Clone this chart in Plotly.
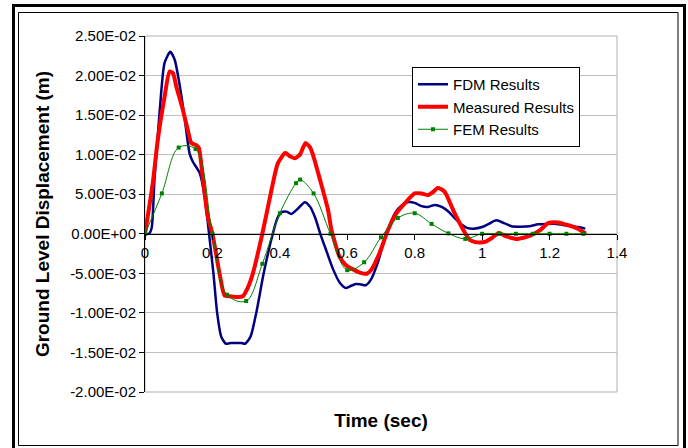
import plotly.graph_objects as go

# ---------------- data ----------------
fdm_t = [0, 0.012, 0.02, 0.028, 0.043, 0.058, 0.075, 0.088, 0.102, 0.117, 0.132, 0.142,
         0.162, 0.177, 0.19, 0.203, 0.214, 0.226, 0.24, 0.255, 0.27, 0.285, 0.297, 0.313,
         0.33, 0.352, 0.379, 0.393, 0.404, 0.42, 0.434, 0.454, 0.474, 0.49, 0.505, 0.52,
         0.535, 0.558, 0.578, 0.595, 0.61, 0.625, 0.64, 0.655, 0.67, 0.69, 0.716, 0.742,
         0.762, 0.781, 0.8, 0.82, 0.84, 0.86, 0.88, 0.899, 0.918, 0.938, 0.955, 0.975,
         1.0, 1.02, 1.042, 1.065, 1.087, 1.11, 1.14, 1.166, 1.19, 1.221, 1.24, 1.26,
         1.285, 1.306]
fdm_v = [0, 0, 0.0008, 0.0068, 0.0152, 0.0216, 0.0230, 0.0220, 0.0190, 0.0148, 0.0102, 0.0091,
         0.0077, 0.0047, 0.0, -0.005, -0.010, -0.013, -0.0139, -0.0138, -0.0138, -0.0138, -0.0139, -0.0130,
         -0.010, -0.005, 0.0, 0.0020, 0.0027, 0.0028, 0.0025, 0.0032, 0.0040, 0.0034, 0.0020, 0.0,
         -0.0018, -0.0045, -0.0062, -0.00685, -0.0066, -0.00635, -0.0064, -0.0065, -0.0058, -0.0037, 0.0, 0.00265,
         0.0036, 0.0040, 0.0039, 0.0035, 0.0034, 0.00365, 0.0034, 0.00285, 0.0020, 0.0012, 0.00075, 0.00065,
         0.00085, 0.00125, 0.0017, 0.00135, 0.00095, 0.0009, 0.00095, 0.0012, 0.00125, 0.00125, 0.0011, 0.0010,
         0.00085, 0.00065]

meas_t = [0, 0.023, 0.038, 0.058, 0.073, 0.083, 0.093, 0.112, 0.127, 0.137, 0.145, 0.152,
          0.16, 0.172, 0.186, 0.2, 0.221, 0.236, 0.25, 0.27, 0.29, 0.305, 0.32, 0.348,
          0.375, 0.394, 0.416, 0.43, 0.444, 0.459, 0.476, 0.49, 0.498, 0.518, 0.543, 0.553,
          0.577, 0.597, 0.617, 0.637, 0.657, 0.672, 0.696, 0.721, 0.746, 0.776, 0.8, 0.82,
          0.84, 0.855, 0.869, 0.889, 0.914, 0.944, 0.963, 0.98, 0.993, 1.01, 1.028, 1.05,
          1.067, 1.085, 1.102, 1.122, 1.142, 1.171, 1.196, 1.226, 1.25, 1.28, 1.305]
meas_v = [0, 0.0064, 0.0119, 0.0173, 0.0205, 0.0203, 0.0186, 0.0157, 0.0131, 0.0115, 0.0113, 0.0112,
          0.0108, 0.0068, 0.0022, 0.0, -0.005, -0.0078, -0.0079, -0.0080, -0.0079, -0.0068, -0.005, 0.0,
          0.0055, 0.0089, 0.0102, 0.0098, 0.00956, 0.00997, 0.01145, 0.0109, 0.0100, 0.0070, 0.0030, 0.0005,
          -0.0029, -0.0040, -0.0045, -0.0049, -0.00505, -0.0045, -0.0024, 0.0005, 0.0026, 0.0041, 0.0051, 0.0051,
          0.0049, 0.0053, 0.0058, 0.0053, 0.0030, 0.0005, -0.00076, -0.00105, -0.0011, -0.0010, -0.00055, 0.0001,
          -0.00025, -0.0005, -0.00067, -0.0005, -0.00025, 0.00042, 0.00135, 0.00143, 0.00114, 0.00072, 0.0001]

fem_t = [0, 0.05, 0.1, 0.15, 0.2, 0.243, 0.3, 0.348, 0.4, 0.448, 0.46, 0.5, 0.55, 0.6,
         0.65, 0.7, 0.75, 0.8, 0.85, 0.9, 0.95, 1.0, 1.05, 1.1, 1.15, 1.2, 1.25, 1.3]
fem_v = [0, 0.0051, 0.0109, 0.0107, 0.0, -0.0077, -0.0085, -0.0038, 0.0026, 0.0064, 0.00685, 0.0051,
         0.0, -0.0046, -0.0036, -0.00045, 0.0020, 0.0026, 0.00125, 0.00005, -0.00065, 0.0, 0.0, 0.0,
         0.0, 0.0, 0.0, 0.0]

y_tickvals = [-0.02, -0.015, -0.01, -0.005, 0.0, 0.005, 0.01, 0.015, 0.02, 0.025]
y_ticktext = ["-2.00E-02", "-1.50E-02", "-1.00E-02", "-5.00E-03", "0.00E+00",
              "5.00E-03", "1.00E-02", "1.50E-02", "2.00E-02", "2.50E-02"]
x_tickvals = [0, 0.2, 0.4, 0.6, 0.8, 1.0, 1.2, 1.4]
x_ticktext = ["0", "0.2", "0.4", "0.6", "0.8", "1", "1.2", "1.4"]

# ---------------- figure ----------------
W, H = 688, 448
L, R, T, B = 145, 71, 36, 56
PW, PH = W - L - R, H - T - B


def px_x(p):
    return (p - L) / PW


def px_y(p):
    return (H - B - p) / PH


FONT = "Arial, 'Liberation Sans', sans-serif"

fig = go.Figure()
fig.add_trace(go.Scatter(x=fdm_t, y=fdm_v, name="FDM Results", mode="lines",
                         line=dict(color="#000080", width=2.5, shape="spline", smoothing=0.6)))
fig.add_trace(go.Scatter(x=meas_t, y=meas_v, name="Measured Results", mode="lines+markers",
                         line=dict(color="#FF0000", width=4, shape="spline", smoothing=0.6),
                         marker=dict(symbol="square", size=3, color="#FF0000")))
fig.add_trace(go.Scatter(x=fem_t, y=fem_v, name="FEM Results", mode="lines+markers",
                         line=dict(color="#008000", width=1, shape="spline", smoothing=1.0),
                         marker=dict(symbol="square", size=4, color="#008000")))

ymin, ymax = -0.02, 0.025
fig.update_layout(
    width=W, height=H,
    margin=dict(l=L, r=R, t=T, b=B, pad=0),
    paper_bgcolor="white", plot_bgcolor="white",
    font=dict(family=FONT, size=15, color="black"),
    showlegend=True,
    legend=dict(x=px_x(412), y=px_y(67), xanchor="left", yanchor="top",
                bgcolor="white", bordercolor="black", borderwidth=1,
                font=dict(family=FONT, size=15, color="black"),
                tracegroupgap=0),
    xaxis=dict(range=[0, 1.4], tickvals=x_tickvals, ticktext=x_ticktext,
               anchor="free", position=(0 - ymin) / (ymax - ymin),
               showline=True, linecolor="black", linewidth=1,
               ticks="outside", ticklen=5, tickcolor="black", tickwidth=1,
               showgrid=False, zeroline=False,
               tickfont=dict(family=FONT, size=15, color="black"),
               title=dict(text="<b>Time (sec)</b>", standoff=153,
                          font=dict(family=FONT, size=19, color="black"))),
    yaxis=dict(range=[ymin, ymax], tickvals=y_tickvals, ticktext=y_ticktext,
               showline=True, linecolor="black", linewidth=1,
               ticks="outside", ticklen=5, tickcolor="black", tickwidth=1,
               showgrid=True, gridcolor="#c0c0c0", gridwidth=1, zeroline=False,
               tickfont=dict(family=FONT, size=15, color="black"),
               title=dict(text="<b>Ground Level Displacement (m)</b>",
                          font=dict(family=FONT, size=19, color="black"))),
    shapes=[
        # plot-area border (grey)
        dict(type="rect", xref="paper", yref="paper", x0=0, y0=0, x1=1, y1=1,
             line=dict(color="#b0b0b0", width=1), layer="below"),
        # outer thick frame
        dict(type="rect", xref="paper", yref="paper",
             x0=px_x(13.5), x1=px_x(684.5), y0=px_y(455), y1=px_y(5.5),
             line=dict(color="black", width=3)),
        # inner thin frame
        dict(type="rect", xref="paper", yref="paper",
             x0=px_x(18.5), x1=px_x(678), y0=px_y(445.5), y1=px_y(12.5),
             line=dict(color="black", width=1)),
    ],
)

fig.write_html("out.html",
               config={"displayModeBar": False},
               post_script="document.body.style.margin='0';document.body.style.overflow='hidden';")
